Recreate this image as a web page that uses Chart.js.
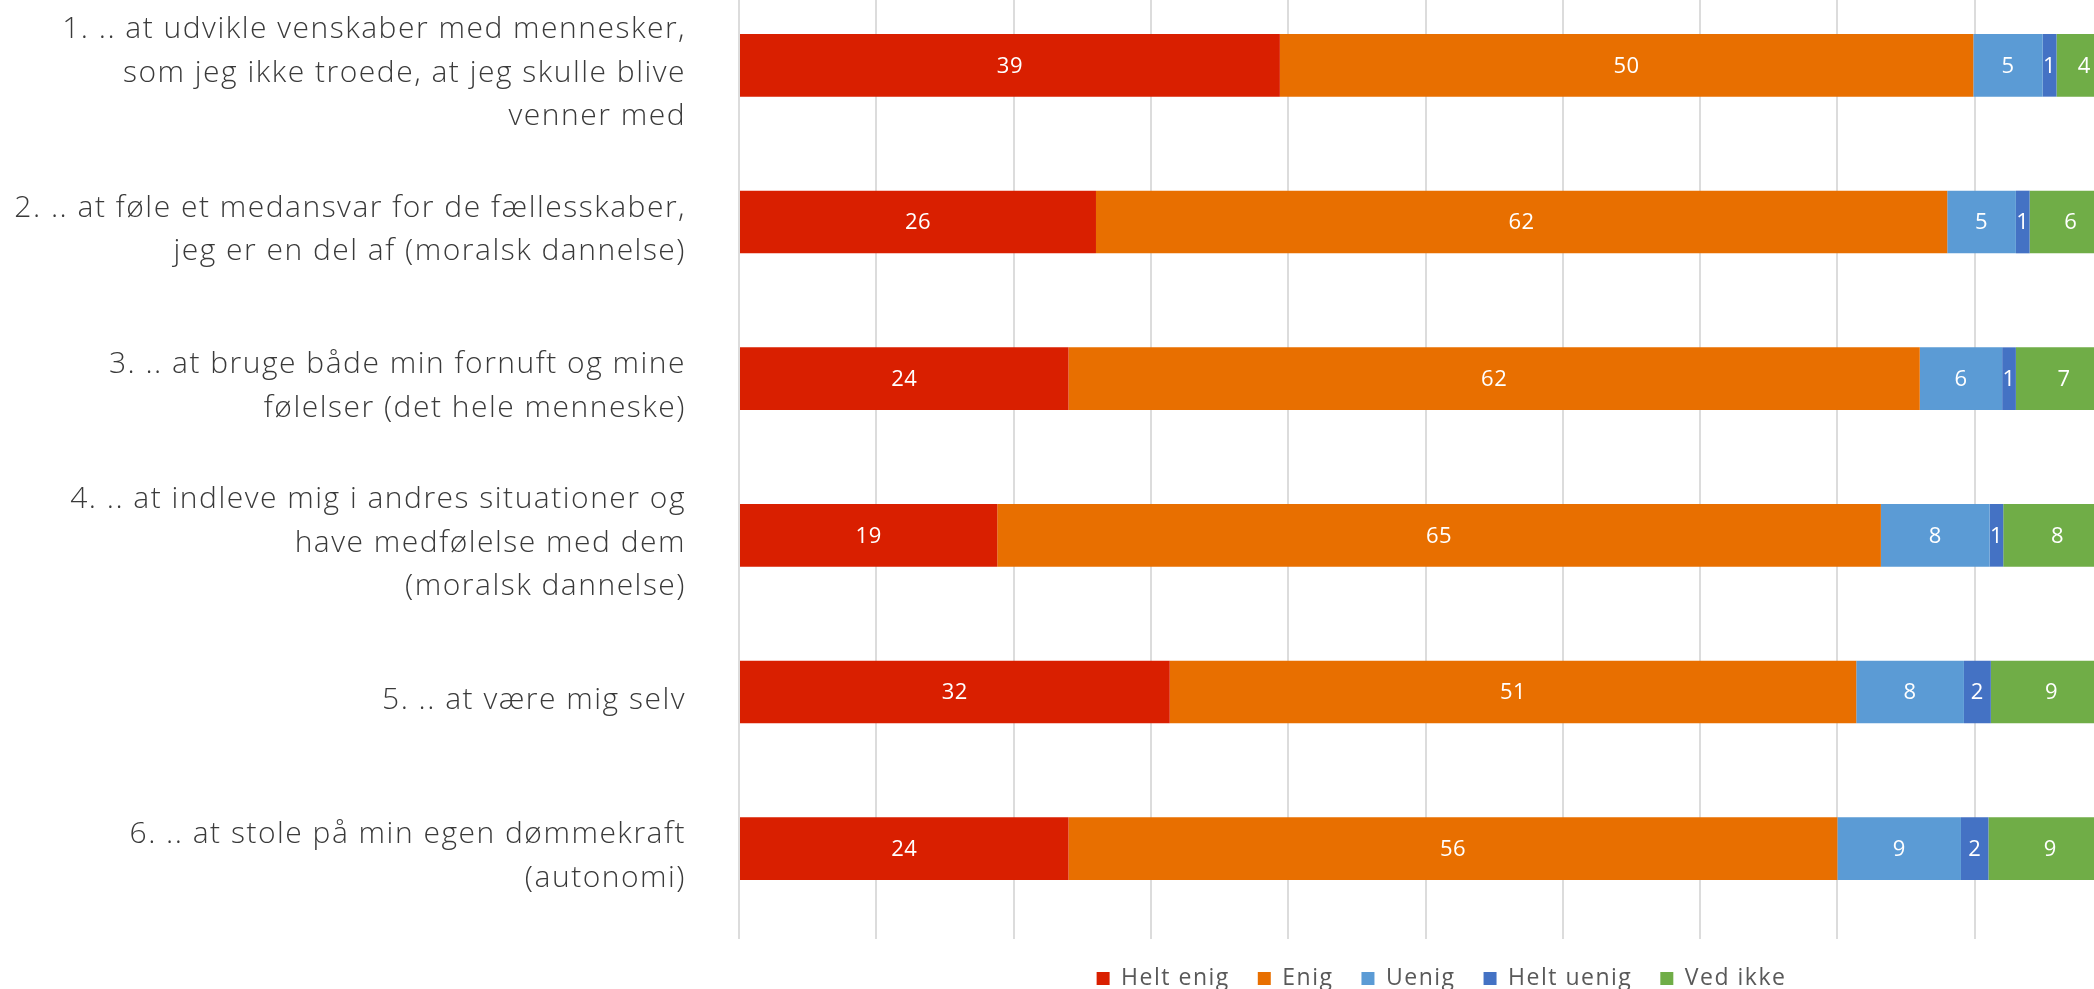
<!DOCTYPE html>
<html>
<head>
<meta charset="utf-8">
<title>Dannelse</title>
<script src="https://cdn.jsdelivr.net/npm/chart.js@4.4.1/dist/chart.umd.min.js"></script>
<style>
    html, body { margin: 0; padding: 0; background: #ffffff; overflow: hidden; }
    #wrap { position: relative; width: 2094px; height: 989px; overflow: hidden; }
    #surveyChart { position: absolute; left: 0; top: -40px; }
</style>
</head>
<body>
<div id="wrap">
    <canvas id="surveyChart" width="2130" height="1040"></canvas>
</div>
<script>
"use strict";

// Spoergsmaal (rows, top to bottom)
var questions = [
    ['1. .. at udvikle venskaber med mennesker,', 'som jeg ikke troede, at jeg skulle blive', 'venner med'],
    ['2. .. at føle et medansvar for de fællesskaber,', 'jeg er en del af (moralsk dannelse)'],
    ['3. .. at bruge både min fornuft og mine', 'følelser (det hele menneske)'],
    ['4. .. at indleve mig i andres situationer og', 'have medfølelse med dem', '(moralsk dannelse)'],
    '5. .. at være mig selv',
    ['6. .. at stole på min egen dømmekraft', '(autonomi)']
];

var answers = ['Helt enig', 'Enig', 'Uenig', 'Helt uenig', 'Ved ikke'];

// Procent, as printed on the bars
var heltEnig = [39, 26, 24, 19, 32, 24];
var enig = [50, 62, 62, 65, 51, 56];
var uenig = [5, 5, 6, 8, 8, 9];
var heltUenig = [1, 1, 1, 1, 2, 2];
var vedIkke = [4, 6, 7, 8, 9, 9];

var axisTicks = [0, 10, 20, 30, 40, 50, 60, 70, 80, 90, 100];

var SurveyChart = function () {

    var colors = ['#d91f00', '#e86f00', '#5b9bd5', '#4472c4', '#70ad47'];
    var series = [heltEnig, enig, uenig, heltUenig, vedIkke];

    // bars are 100% stacked, so each row is scaled to its own total
    var rowTotals = questions.map(function (q, i) {
        return series.reduce(function (sum, s) { return sum + s[i]; }, 0);
    });

    // the original font (Montserrat) runs wider, so open the text up a little
    var wideText = {
        id: 'wideText',
        beforeUpdate: function (chart) {
            chart.ctx.letterSpacing = '1.5px';
        },
        afterLayout: function (chart) {
            // legend sits a bit right of the plot centre in the original
            chart.legend.left += 16;
            chart.legend.right += 16;
        },
        beforeDraw: function (chart) {
            chart.ctx.letterSpacing = '1.5px';
        }
    };

    var barLabels = {
        id: 'barLabels',
        afterDatasetsDraw: function (chart) {
            var ctx = chart.ctx;
            ctx.save();
            ctx.letterSpacing = '0.5px';
            ctx.fillStyle = '#ffffff';
            ctx.font = '22px "Open Sans"';
            ctx.textAlign = 'center';
            ctx.textBaseline = 'middle';
            chart.data.datasets.forEach(function (ds, d) {
                chart.getDatasetMeta(d).data.forEach(function (bar, i) {
                    ctx.fillText(String(ds.shown[i]), (bar.x + bar.base) / 2, bar.y + 1);
                });
            });
            ctx.restore();
        }
    };

    var initChart = function () {
        Chart.defaults.font.family = '"Open Sans", sans-serif';

        var datasets = answers.map(function (name, d) {
            return {
                label: name,
                shown: series[d],
                data: series[d].map(function (v, i) { return v / rowTotals[i] * 100; }),
                backgroundColor: colors[d],
                borderWidth: 0,
                barPercentage: 0.4,
                categoryPercentage: 1.0
            };
        });

        new Chart(document.getElementById('surveyChart'), {
            type: 'bar',
            data: {
                labels: questions,
                datasets: datasets
            },
            plugins: [wideText, barLabels],
            options: {
                indexAxis: 'y',
                responsive: false,
                animation: false,
                layout: {
                    padding: { top: 27, right: 18, bottom: 0, left: 0 }
                },
                scales: {
                    x: {
                        stacked: true,
                        min: 0,
                        max: 100,
                        afterBuildTicks: function (scale) {
                            scale.ticks = axisTicks.map(function (v) { return { value: v }; });
                        },
                        border: { display: false },
                        grid: {
                            color: '#dcdcdc',
                            lineWidth: 2,
                            drawTicks: true,
                            tickLength: 12
                        },
                        ticks: { display: false }
                    },
                    y: {
                        stacked: true,
                        border: { display: false },
                        grid: { display: false, drawTicks: false },
                        afterFit: function (scale) {
                            scale.width = 739;
                            scale.paddingTop = 0;
                            scale.paddingBottom = 0;
                        },
                        ticks: {
                            padding: 53,
                            labelOffset: 8,
                            color: '#3a3a3a',
                            font: { size: 30, weight: '300', lineHeight: 1.45 }
                        }
                    }
                },
                plugins: {
                    tooltip: { enabled: false },
                    legend: {
                        position: 'bottom',
                        fullSize: false,
                        labels: {
                            boxWidth: 13,
                            boxHeight: 13,
                            padding: 28,
                            color: '#595959',
                            font: { size: 23 }
                        }
                    }
                }
            }
        });
    };

    return {
        init: function () {
            initChart();
        }
    };

}();

SurveyChart.init();
</script>
</body>
</html>
